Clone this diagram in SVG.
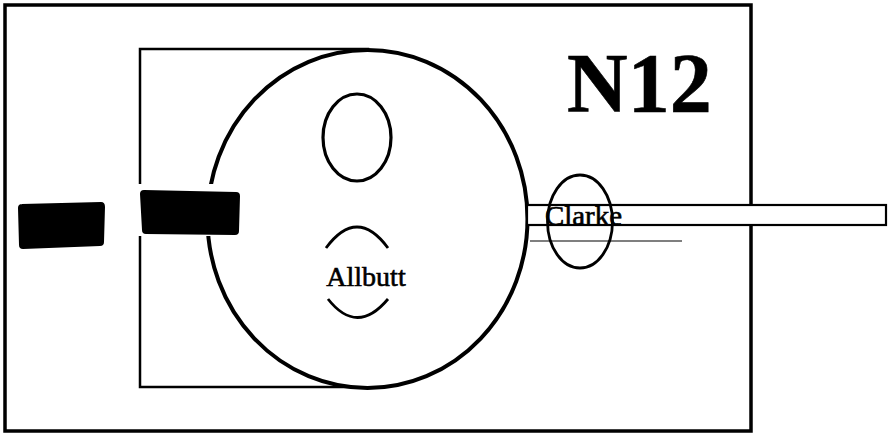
<svg xmlns="http://www.w3.org/2000/svg" width="888" height="434" viewBox="0 0 888 434">
<style>
.ln{fill:none;stroke:#000;}
.wf{fill:#fff;stroke:#000;}
.blk{fill:#000;stroke:#000;stroke-width:2;stroke-linejoin:round;}
.t{font-family:"Liberation Serif","Times New Roman",serif;fill:#000;stroke:#000;stroke-width:0.6;}
</style>
<rect width="888" height="434" fill="#fff"/>
<g id="frame">
<rect class="ln" x="5" y="5" width="746" height="426" stroke-width="3.5"/>
</g>
<g id="inner-box">
<rect class="ln" x="140" y="49" width="228" height="338" stroke-width="2.5"/>
</g>
<g id="main-circle">
<ellipse class="wf" cx="367.5" cy="219" rx="160" ry="169" stroke-width="4"/>
</g>
<g id="top-oval">
<ellipse class="ln" cx="357" cy="137.5" rx="34" ry="43.5" stroke-width="3.2"/>
</g>
<g id="allbutt">
<path class="ln" d="M326,248 Q357,206 388,248" stroke-width="2.8"/>
<path class="ln" d="M328,299 Q357,336 388,299" stroke-width="2.8"/>
<text class="t" x="366" y="286" font-size="28" text-anchor="middle">Allbutt</text>
</g>
<g id="clarke">
<rect class="wf" x="527" y="205" width="359" height="20" stroke-width="2.2"/>
<line class="ln" x1="530" y1="241" x2="682" y2="241" stroke-width="1.2"/>
<ellipse class="ln" cx="580" cy="221.5" rx="32.5" ry="46.5" stroke-width="2.8"/>
<text class="t" x="545" y="225" font-size="27" textLength="77" lengthAdjust="spacingAndGlyphs">Clarke</text>
</g>
<g id="blocks">
<rect x="133" y="184" width="112" height="52" fill="#fff"/>
<path class="blk" d="M22,205 L101,203 Q104,203 104,207 L103,242 Q103,245 100,245 L23,248 Q20,248 20,245 L19,208 Q19,205 22,205 Z"/>
<path class="blk" d="M144,191 L236,193 Q239,193 239,196 L238,231 Q238,234 235,234 L146,233 Q143,233 143,230 L141,194 Q141,191 144,191 Z"/>
</g>
<g id="label">
<text class="t" x="567" y="112" font-size="84" font-weight="bold">N12</text>
</g>
</svg>
